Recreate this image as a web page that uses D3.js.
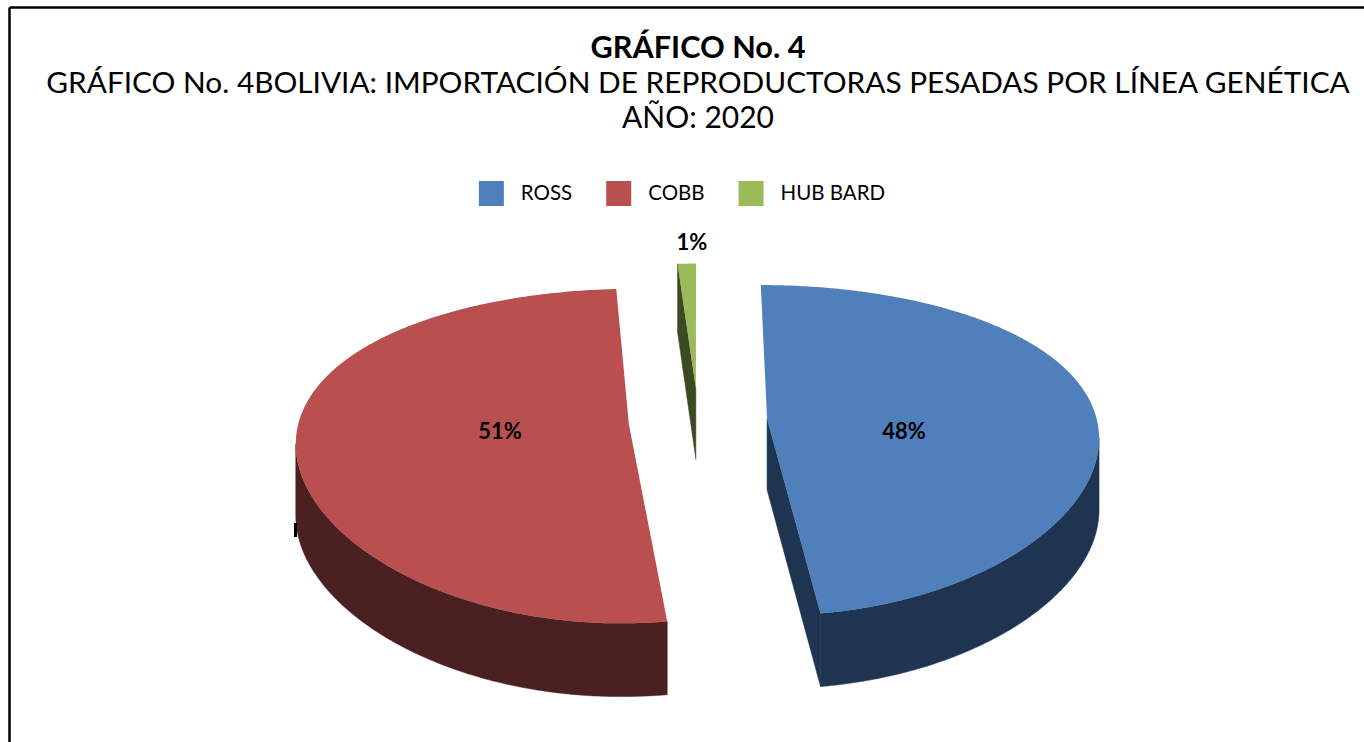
<!DOCTYPE html>
<html>
<head>
<meta charset="utf-8">
<script src="https://cdn.jsdelivr.net/npm/d3@7"></script>
<style>
  html, body { margin: 0; padding: 0; background: #fff; }
  svg { display: block; }
  text { font-family: Lato, "Open Sans", sans-serif; fill: #000; }
</style>
</head>
<body>
<svg id="chart" width="1364" height="742"></svg>
<script>
// ---- data ----
const categories = ["ROSS", "COBB", "HUB BARD"];
const values = [48, 51, 1];
const labels = ["48%", "51%", "1%"];
const topColors = ["#4F80BC", "#B9504F", "#9BBA5A"];
const sideColors = ["#1F3450", "#4A2120", "#3E4923"];
const titleLines = ["GRÁFICO No. 4", "GRÁFICO No. 4BOLIVIA: IMPORTACIÓN DE REPRODUCTORAS PESADAS POR LÍNEA GENÉTICA", "AÑO: 2020"];

const W = 1364, H = 742;
const svg = d3.select("#chart");

// frame (top + left edge visible)
svg.append("line").attr("x1", 9.5).attr("y1", 7.5).attr("x2", W).attr("y2", 7.5)
  .attr("stroke", "#000").attr("stroke-width", 2.5);
svg.append("line").attr("x1", 9.5).attr("y1", 7.5).attr("x2", 9.5).attr("y2", H)
  .attr("stroke", "#000").attr("stroke-width", 2.5);

// titles, fitted to measured widths
function fitText(sel, targetW) {
  const w = sel.node().getComputedTextLength();
  const fs = parseFloat(sel.attr("font-size"));
  sel.attr("font-size", (fs * targetW / w).toFixed(2));
}
const tCx = 698;
const t1 = svg.append("text").attr("x", tCx).attr("y", 58).attr("text-anchor", "middle")
  .attr("font-size", 25).attr("font-weight", "bold").text(titleLines[0]);
fitText(t1, 215);
const t2 = svg.append("text").attr("x", tCx).attr("y", 93).attr("text-anchor", "middle")
  .attr("font-size", 24).text(titleLines[1]);
fitText(t2, 1304);
const t3 = svg.append("text").attr("x", tCx).attr("y", 128).attr("text-anchor", "middle")
  .attr("font-size", 24).text(titleLines[2]);
fitText(t3, 152);

// legend
const legend = svg.append("g");
const sq = 25, gapText = 17, gapItem = 34;
let lx = 0;
categories.forEach((c, i) => {
  const g = legend.append("g").attr("transform", `translate(${lx},0)`);
  g.append("rect").attr("x", 0).attr("y", 0).attr("width", sq).attr("height", sq).attr("fill", topColors[i]);
  const t = g.append("text").attr("x", sq + gapText).attr("y", 19).attr("font-size", 20.5).text(c);
  lx += sq + gapText + t.node().getComputedTextLength() + gapItem;
});
const legW = lx - gapItem;
legend.attr("transform", `translate(${682 - legW / 2},181)`);

// ---- 3D pie ----
const cx = 698, cy = 421, S = 330, px = 0.1, A = 160, py = 0.19, Hd = 71, ph = 0.03;
const explode = 0.21;
function proj(x, z, bottom) {
  return [cx + S * x / (1 - px * z),
          cy + A * z / (1 - py * z) + (bottom ? Hd / (1 - ph * z) : 0)];
}
const pie = d3.pie().sort(null).startAngle(0).endAngle(2 * Math.PI);
const arcs = pie(values).map((a, i) => {
  const mid = (a.startAngle + a.endAngle) / 2;
  return { ...a, i, ox: explode * Math.sin(mid), oz: -explode * Math.cos(mid) };
});
const line = d3.line();
const pieG = svg.append("g");
const order = arcs.slice().sort((a, b) => a.oz - b.oz);

order.forEach(a => {
  const g = pieG.append("g");
  const rim = (t, b) => proj(a.ox + Math.sin(t), a.oz - Math.cos(t), b);
  const apex = b => proj(a.ox, a.oz, b);
  const n = Math.max(4, Math.ceil((a.endAngle - a.startAngle) / 0.01));
  const ts = d3.range(n + 1).map(k => a.startAngle + (a.endAngle - a.startAngle) * k / n);

  // radial walls
  if (Math.sin(a.startAngle) < -1e-6) {
    g.append("path").attr("d", line([apex(false), rim(a.startAngle, false), rim(a.startAngle, true), apex(true)]) + "Z")
      .attr("fill", sideColors[a.i]).attr("stroke", sideColors[a.i]).attr("stroke-width", 0.5);
  }
  if (Math.sin(a.endAngle) > 1e-6) {
    g.append("path").attr("d", line([apex(false), rim(a.endAngle, false), rim(a.endAngle, true), apex(true)]) + "Z")
      .attr("fill", sideColors[a.i]).attr("stroke", sideColors[a.i]).attr("stroke-width", 0.5);
  }
  // outer wall: visible where screen X decreases with angle
  let run = [];
  const runs = [];
  for (let k = 0; k < n; k++) {
    const p0 = rim(ts[k], false), p1 = rim(ts[k + 1], false);
    if (p1[0] < p0[0]) {
      if (!run.length) run.push(ts[k]);
      run.push(ts[k + 1]);
    } else if (run.length) { runs.push(run); run = []; }
  }
  if (run.length) runs.push(run);
  runs.forEach(r => {
    const pts = r.map(t => rim(t, false)).concat(r.slice().reverse().map(t => rim(t, true)));
    g.append("path").attr("d", line(pts) + "Z")
      .attr("fill", sideColors[a.i]).attr("stroke", sideColors[a.i]).attr("stroke-width", 0.5);
  });
  // top face
  const topPts = [apex(false)].concat(ts.map(t => rim(t, false)));
  g.append("path").attr("d", line(topPts) + "Z").attr("fill", topColors[a.i]);
});

// stray mark near the left wall
svg.append("rect").attr("x", 294).attr("y", 523).attr("width", 3).attr("height", 14).attr("fill", "#000");

// data labels
const labelPos = [[904, 439], [500, 439], [692, 250]];
arcs.forEach((a, i) => {
  svg.append("text").attr("x", labelPos[i][0]).attr("y", labelPos[i][1])
    .attr("text-anchor", "middle").attr("font-size", 22).attr("font-weight", "bold").text(labels[i]);
});
</script>
</body>
</html>
